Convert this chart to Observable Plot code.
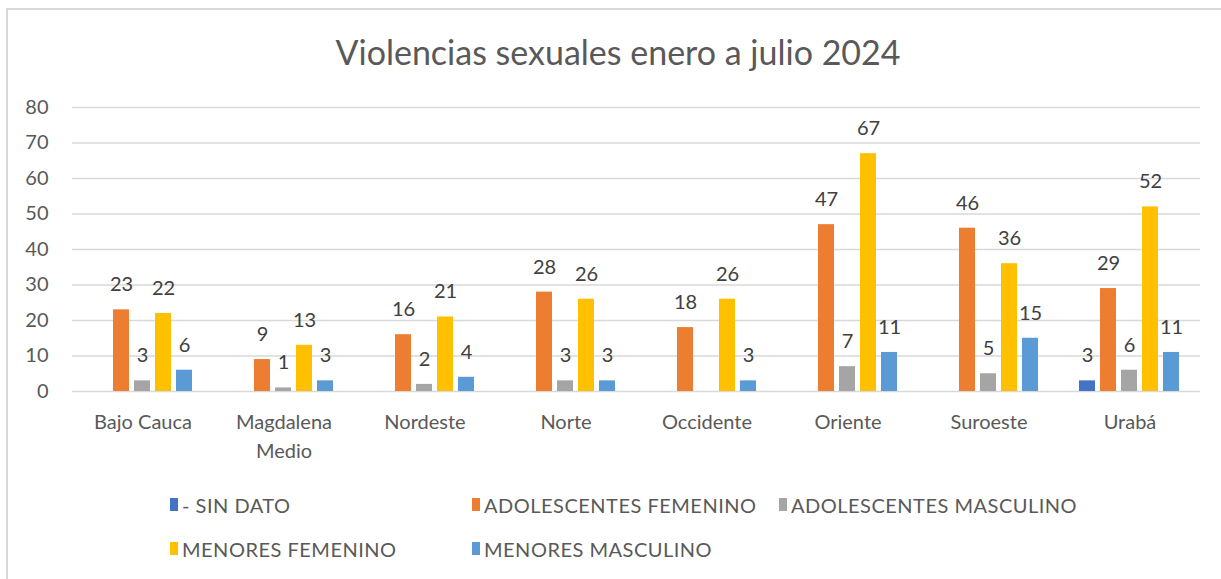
<!DOCTYPE html>
<html>
<head>
<meta charset="utf-8">
<script src="https://cdn.jsdelivr.net/npm/d3@7"></script>
<script src="https://cdn.jsdelivr.net/npm/@observablehq/plot@0.6"></script>
<style>
  html, body { margin: 0; padding: 0; background: #fff; }
  body { width: 1221px; height: 579px; position: relative; overflow: hidden; font-family: Lato, "Noto Sans", sans-serif; }
  #frame { position: absolute; left: 6px; top: 8px; width: 1300px; height: 700px; border-left: 2px solid #d9d9d9; border-top: 2px solid #d9d9d9; }
  #title { position: absolute; left: 0; width: 1236px; top: 29px; text-align: center; font-size: 34px; color: #595959; line-height: 46px; }
  #chart { position: absolute; left: 0; top: 0; }
  .leg { position: absolute; font-size: 20px; letter-spacing: 0.5px; color: #595959; line-height: 20px; white-space: nowrap; }
  .leg .sw { position: absolute; left: 0; top: 3px; width: 8px; height: 13px; }
  .leg .tx { position: absolute; left: 12px; top: 0; }
</style>
</head>
<body>
<div id="frame"></div>
<div id="title">Violencias sexuales enero a julio 2024</div>
<div id="chart"></div>
<div id="legend"></div>
<script>
const categories = ["Bajo Cauca", "Magdalena Medio", "Nordeste", "Norte", "Occidente", "Oriente", "Suroeste", "Urabá"];
const seriesNames = ["- SIN DATO", "ADOLESCENTES FEMENINO", "ADOLESCENTES MASCULINO", "MENORES FEMENINO", "MENORES MASCULINO"];
const seriesColors = ["#4472C4", "#ED7D31", "#A5A5A5", "#FFC000", "#5B9BD5"];
const sinDato = [null, null, null, null, null, null, null, 3];
const adolescentesFemenino = [23, 9, 16, 28, 18, 47, 46, 29];
const adolescentesMasculino = [3, 1, 2, 3, null, 7, 5, 6];
const menoresFemenino = [22, 13, 21, 26, 26, 67, 36, 52];
const menoresMasculino = [6, 3, 4, 3, 3, 11, 15, 11];
const yTicks = [0, 10, 20, 30, 40, 50, 60, 70, 80];

const seriesValues = [sinDato, adolescentesFemenino, adolescentesMasculino, menoresFemenino, menoresMasculino];
const data = [];
categories.forEach((c, i) => {
  seriesNames.forEach((s, j) => {
    const v = seriesValues[j][i];
    if (v != null) data.push({category: c, series: s, value: v});
  });
});

const chart = Plot.plot({
  width: 1221,
  height: 470,
  marginLeft: 70,
  marginRight: 19,
  marginTop: 107,
  marginBottom: 79,
  style: {fontFamily: "Lato, 'Noto Sans', sans-serif", fontSize: "20px", color: "#595959", background: "transparent", overflow: "visible"},
  facet: {data: data, x: "category"},
  fx: {domain: categories, paddingInner: 0, paddingOuter: 0, label: null, axis: null},
  x: {domain: seriesNames, axis: null, paddingInner: 0.227, paddingOuter: 0.83},
  y: {domain: [0, 80], axis: null},
  color: {domain: seriesNames, range: seriesColors},
  marks: [
    Plot.ruleY(yTicks, {stroke: "#d9d9d9", strokeWidth: 1.5}),
    Plot.barY(data, {x: "series", y: "value", fill: "series"}),
    Plot.text(data, {x: "series", y: "value", text: d => String(d.value), dy: -25, fontSize: 20, fill: "#404040"}),
    Plot.axisY({ticks: yTicks, tickSize: 0, tickPadding: 24, fontSize: 20, label: null, facetAnchor: "left"}),
    Plot.axisFx({anchor: "bottom", tickSize: 0, tickPadding: 17, fontSize: 20, label: null, lineHeight: 1.45, tickFormat: d => d === "Magdalena Medio" ? "Magdalena\nMedio" : d})
  ]
});
document.getElementById("chart").appendChild(chart);

const legendItems = [
  {name: seriesNames[0], color: seriesColors[0], x: 170, y: 495},
  {name: seriesNames[1], color: seriesColors[1], x: 472, y: 495},
  {name: seriesNames[2], color: seriesColors[2], x: 779, y: 495},
  {name: seriesNames[3], color: seriesColors[3], x: 170, y: 539},
  {name: seriesNames[4], color: seriesColors[4], x: 472, y: 539}
];
const legend = document.getElementById("legend");
legendItems.forEach(it => {
  const d = document.createElement("div");
  d.className = "leg";
  d.style.left = it.x + "px";
  d.style.top = it.y + "px";
  d.innerHTML = `<span class="sw" style="background:${it.color}"></span><span class="tx">${it.name}</span>`;
  legend.appendChild(d);
});
</script>
</body>
</html>
